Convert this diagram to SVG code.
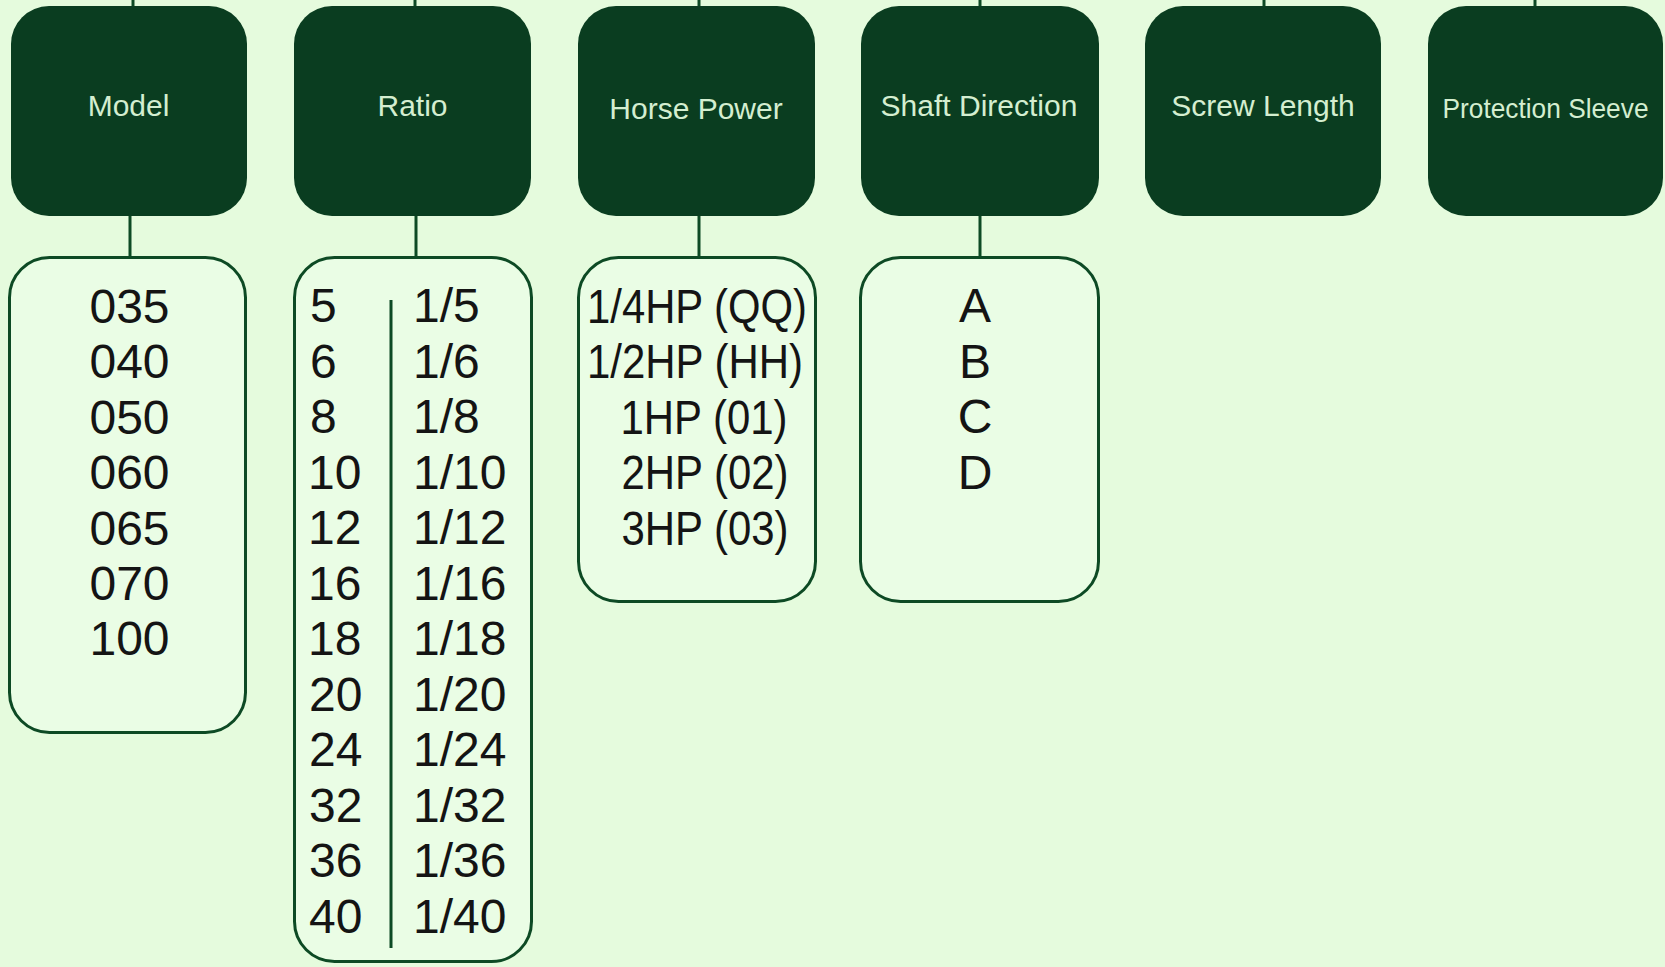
<svg xmlns="http://www.w3.org/2000/svg" width="1665" height="967" viewBox="0 0 1665 967">
<style>
.hdr{fill:#0a3d20}
.hlbl{font-family:"Liberation Sans",Arial,sans-serif;font-size:30px;fill:#d4eed0;text-anchor:middle}
.vbox{fill:#eafde5;stroke:#0d4a24;stroke-width:3}
.val{font-family:"Liberation Sans",Arial,sans-serif;font-size:48px;fill:#141414}
.mid{text-anchor:middle}
.conn{stroke:#0d4a24;stroke-width:3;fill:none}
</style>
<rect x="0" y="0" width="1665" height="967" fill="#e5fbdd"/>
<g id="connectors">
<line class="conn" x1="133" y1="0" x2="133" y2="8"/>
<line class="conn" x1="415" y1="0" x2="415" y2="8"/>
<line class="conn" x1="699" y1="0" x2="699" y2="8"/>
<line class="conn" x1="980" y1="0" x2="980" y2="8"/>
<line class="conn" x1="1264" y1="0" x2="1264" y2="8"/>
<line class="conn" x1="1535" y1="0" x2="1535" y2="8"/>
<line class="conn" x1="130" y1="214" x2="130" y2="258"/>
<line class="conn" x1="416" y1="214" x2="416" y2="258"/>
<line class="conn" x1="699" y1="214" x2="699" y2="258"/>
<line class="conn" x1="980" y1="214" x2="980" y2="258"/>
</g>
<g id="h-model"><rect class="hdr" x="11" y="6" width="236" height="210" rx="38"/><text class="hlbl" x="128.5" y="115.5">Model</text></g>
<g id="h-ratio"><rect class="hdr" x="294" y="6" width="237" height="210" rx="38"/><text class="hlbl" x="412.5" y="115.5">Ratio</text></g>
<g id="h-hp"><rect class="hdr" x="578" y="6" width="237" height="210" rx="38"/><text class="hlbl" x="696" y="118.5">Horse Power</text></g>
<g id="h-shaft"><rect class="hdr" x="861" y="6" width="238" height="210" rx="38"/><text class="hlbl" x="979" y="115.5">Shaft Direction</text></g>
<g id="h-screw"><rect class="hdr" x="1145" y="6" width="236" height="210" rx="38"/><text class="hlbl" x="1263" y="115.5">Screw Length</text></g>
<g id="h-sleeve"><rect class="hdr" x="1428" y="6" width="235" height="210" rx="38"/><text class="hlbl" x="1545.5" y="117.5" style="font-size:28px" textLength="206" lengthAdjust="spacingAndGlyphs">Protection Sleeve</text></g>
<g id="v-model">
<rect class="vbox" x="9.5" y="257.5" width="236" height="475" rx="40"/>
<text class="val mid" x="129.5" y="322.5">035</text>
<text class="val mid" x="129.5" y="378">040</text>
<text class="val mid" x="129.5" y="433.5">050</text>
<text class="val mid" x="129.5" y="489">060</text>
<text class="val mid" x="129.5" y="544.5">065</text>
<text class="val mid" x="129.5" y="600">070</text>
<text class="val mid" x="129.5" y="655">100</text>
</g>
<g id="v-ratio">
<rect class="vbox" x="294.5" y="257.5" width="237" height="704" rx="40"/>
<line class="conn" x1="391" y1="300" x2="391" y2="948"/>
<g class="val">
<text x="310" y="322">5</text><text x="413" y="322">1/5</text>
<text x="310" y="377.5">6</text><text x="413" y="377.5">1/6</text>
<text x="310" y="433">8</text><text x="413" y="433">1/8</text>
<text x="308" y="488.5">10</text><text x="413" y="488.5">1/10</text>
<text x="308" y="544">12</text><text x="413" y="544">1/12</text>
<text x="308" y="599.5">16</text><text x="413" y="599.5">1/16</text>
<text x="308" y="655">18</text><text x="413" y="655">1/18</text>
<text x="309" y="710.5">20</text><text x="413" y="710.5">1/20</text>
<text x="309" y="766">24</text><text x="413" y="766">1/24</text>
<text x="309" y="821.5">32</text><text x="413" y="821.5">1/32</text>
<text x="309" y="877">36</text><text x="413" y="877">1/36</text>
<text x="309" y="932.5">40</text><text x="413" y="932.5">1/40</text>
</g>
</g>
<g id="v-hp">
<rect class="vbox" x="578.5" y="257.5" width="237" height="344" rx="40"/>
<text class="val" x="587" y="322.5" textLength="220" lengthAdjust="spacingAndGlyphs">1/4HP (QQ)</text>
<text class="val" x="587" y="378" textLength="216" lengthAdjust="spacingAndGlyphs">1/2HP (HH)</text>
<text class="val" x="620.5" y="433.5" textLength="167" lengthAdjust="spacingAndGlyphs">1HP (01)</text>
<text class="val" x="621.5" y="489" textLength="167" lengthAdjust="spacingAndGlyphs">2HP (02)</text>
<text class="val" x="621.5" y="544.5" textLength="167" lengthAdjust="spacingAndGlyphs">3HP (03)</text>
</g>
<g id="v-shaft">
<rect class="vbox" x="860.5" y="257.5" width="238" height="344" rx="40"/>
<text class="val mid" x="975" y="322">A</text>
<text class="val mid" x="975" y="377.5">B</text>
<text class="val mid" x="975" y="433">C</text>
<text class="val mid" x="975" y="488.5">D</text>
</g>
</svg>
